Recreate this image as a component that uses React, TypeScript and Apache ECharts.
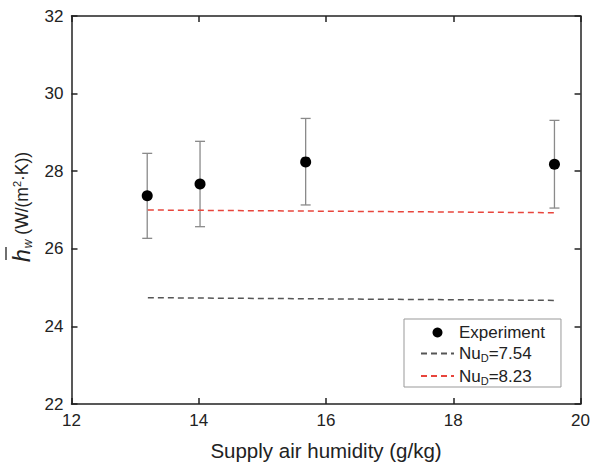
import React, { useEffect, useRef } from "react";
import * as echarts from "echarts";

const humidity = [13.19, 14.02, 15.68, 19.59];
const hExp = [27.37, 27.67, 28.24, 28.18];
const errLow = [26.27, 26.57, 27.13, 27.05];
const errHigh = [28.46, 28.77, 29.36, 29.31];
const lineX = [13.2, 19.6];
const nu754 = [24.74, 24.67];
const nu823 = [27.0, 26.93];
const xTicks = [12, 14, 16, 18, 20];
const yTicks = [22, 24, 26, 28, 30, 32];

const FONT = "'Liberation Sans', Arial, Helvetica, sans-serif";
const TXT = "#222";

export default function App() {
  const ref = useRef<HTMLDivElement>(null);
  useEffect(() => {
    const chart = echarts.init(ref.current!, null, { renderer: "svg" });
    const axisCommon = {
      type: "value",
      axisLine: { show: true, lineStyle: { color: "#222", width: 1.5 } },
      axisTick: { show: true, inside: true, length: 6, lineStyle: { color: "#222", width: 1.5 } },
      splitLine: { show: false },
    };
    chart.setOption({
      animation: false,
      backgroundColor: "#fff",
      textStyle: { fontFamily: FONT },
      grid: { left: 71.5, right: 11.5, top: 16, bottom: 60 },
      graphic: [
        {
          type: "group",
          x: 22,
          y: 262,
          rotation: Math.PI / 2,
          children: [
            {
              type: "text",
              x: 0,
              y: 0,
              style: {
                text: "{h|h}{w|w}{n| (W/(m}{s|2}{n|\u00b7K))}",
                align: "left",
                verticalAlign: "middle",
                fill: TXT,
                font: "18px " + FONT,
                rich: {
                  h: { fontSize: 23, fontStyle: "italic", fill: TXT, fontFamily: FONT },
                  w: { fontSize: 12, fontStyle: "italic", fill: TXT, fontFamily: FONT, padding: [12, 0, 0, 1] },
                  n: { fontSize: 17.5, fill: TXT, fontFamily: FONT },
                  s: { fontSize: 11, fill: TXT, fontFamily: FONT, padding: [0, 0, 10, 0] },
                },
              },
            },
            {
              type: "line",
              shape: { x1: 2, y1: -16, x2: 15, y2: -16 },
              style: { stroke: TXT, lineWidth: 1.3 },
            },
          ],
        },
      ],
      xAxis: [
        {
          ...axisCommon,
          min: xTicks[0],
          max: xTicks[xTicks.length - 1],
          interval: 2,
          position: "bottom",
          axisLabel: { fontSize: 17, color: TXT, margin: 8, fontFamily: FONT },
          name: "Supply air humidity (g/kg)",
          nameLocation: "middle",
          nameGap: 36,
          nameTextStyle: { fontSize: 20.5, color: TXT, fontFamily: FONT, verticalAlign: "top" },
        },
        {
          ...axisCommon,
          min: xTicks[0],
          max: xTicks[xTicks.length - 1],
          interval: 2,
          position: "top",
          axisLabel: { show: false },
        },
      ],
      yAxis: [
        {
          ...axisCommon,
          min: yTicks[0],
          max: yTicks[yTicks.length - 1],
          interval: 2,
          position: "left",
          axisLabel: { fontSize: 17, color: TXT, margin: 8, fontFamily: FONT },
        },
        {
          ...axisCommon,
          min: yTicks[0],
          max: yTicks[yTicks.length - 1],
          interval: 2,
          position: "right",
          axisLabel: { show: false },
        },
      ],
      legend: {
        orient: "vertical",
        left: 404,
        top: 319,
        padding: [5, 16, 1, 16],
        backgroundColor: "#fff",
        borderColor: "#999",
        borderWidth: 1,
        borderRadius: 0,
        itemWidth: 33,
        itemHeight: 10,
        itemGap: 4,
        itemTextGap: 12,
        data: [
          { name: "Experiment", icon: "circle" },
          { name: "Nu_D=7.54", itemStyle: { opacity: 0 } },
          { name: "Nu_D=8.23", itemStyle: { opacity: 0 } },
        ],
        formatter: (name: string) => {
          if (name.startsWith("Nu_D")) {
            return "{a|Nu}{s|D}{a|" + name.slice(4) + "}";
          }
          return "{a|" + name + "}";
        },
        textStyle: {
          fontFamily: FONT,
          fontSize: 17,
          color: TXT,
          rich: {
            a: { fontSize: 17, color: TXT, fontFamily: FONT, lineHeight: 20 },
            s: { fontSize: 11, color: TXT, fontFamily: FONT, padding: [9, 0, 0, 0] },
          },
        },
      },
      series: [
        {
          name: "errorbars",
          type: "custom",
          z: 1,
          silent: true,
          data: humidity.map((x, i) => [x, errLow[i], errHigh[i]]),
          renderItem: (params: any, api: any) => {
            const x = api.value(0);
            const lo = api.coord([x, api.value(1)]);
            const hi = api.coord([x, api.value(2)]);
            const cap = 5;
            const style = { stroke: "#8a8a8a", lineWidth: 1.3 };
            return {
              type: "group",
              children: [
                { type: "line", shape: { x1: lo[0], y1: lo[1], x2: hi[0], y2: hi[1] }, style },
                { type: "line", shape: { x1: lo[0] - cap, y1: lo[1], x2: lo[0] + cap, y2: lo[1] }, style },
                { type: "line", shape: { x1: hi[0] - cap, y1: hi[1], x2: hi[0] + cap, y2: hi[1] }, style },
              ],
            };
          },
        },
        {
          name: "Experiment",
          type: "scatter",
          z: 3,
          symbol: "circle",
          symbolSize: 11,
          itemStyle: { color: "#000", opacity: 1 },
          data: humidity.map((x, i) => [x, hExp[i]]),
        },
        {
          name: "Nu_D=7.54",
          type: "line",
          z: 2,
          symbol: "none",
          color: "#555",
          lineStyle: { color: "#555", width: 1.5, type: [6, 4] },
          data: lineX.map((x, i) => [x, nu754[i]]),
        },
        {
          name: "Nu_D=8.23",
          type: "line",
          z: 2,
          symbol: "none",
          color: "#e8453c",
          lineStyle: { color: "#e8453c", width: 1.5, type: [6, 4] },
          data: lineX.map((x, i) => [x, nu823[i]]),
        },
      ],
    });
    return () => chart.dispose();
  }, []);
  return <div ref={ref} style={{ width: 593, height: 466, position: "absolute", left: 0, top: 0 }} />;
}
